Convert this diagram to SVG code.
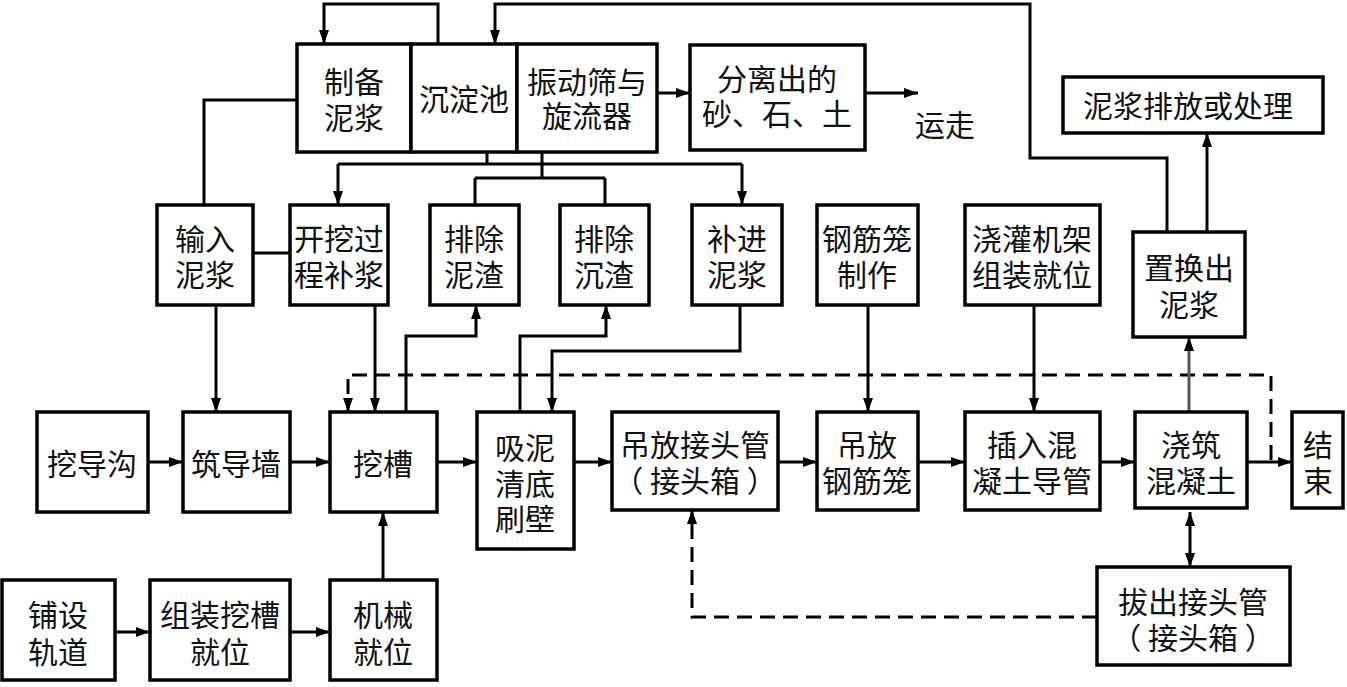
<svg xmlns="http://www.w3.org/2000/svg" width="1347" height="687" viewBox="0 0 1347 687">
<style>
.b{fill:#fff;stroke:#000;stroke-width:3.5}
.t{font-family:"Noto Sans CJK SC","Noto Sans",sans-serif;font-size:30px;fill:#111;text-anchor:middle;dominant-baseline:central}
.c{fill:none;stroke:#000;stroke-width:3}
.a{fill:none;stroke:#000;stroke-width:3;marker-end:url(#ah)}
.d{fill:none;stroke:#000;stroke-width:3;stroke-dasharray:15 8;marker-end:url(#ah)}
</style>
<defs>
<marker id="ah" viewBox="0 0 14 10" refX="14" refY="5" markerWidth="14" markerHeight="10" markerUnits="userSpaceOnUse" orient="auto-start-reverse"><path d="M0,0 L14,5 L0,10 z" fill="#000"/></marker>
</defs>
<rect width="1347" height="687" fill="#fff"/>
<g id="connectors">
<path class="a" d="M438,44 V4 H324 V44"/>
<path class="a" d="M1167,232 V158 H1030 V4 H495 V44"/>
<path class="a" d="M657,93 H690"/>
<path class="a" d="M865,93 H918"/>
<path class="a" d="M1207,232 V133"/>
<path class="c" d="M297,100 H204 V205"/>
<path class="c" d="M253,253 H290"/>
<path class="c" d="M487,152 V164 M338,164 H742 M542,152 V178 M475,178 H605 M475,178 V205 M605,178 V205"/>
<path class="a" d="M338,164 V205"/>
<path class="a" d="M742,164 V205"/>
<path class="a" d="M216,305 V412"/>
<path class="a" d="M375,305 V412"/>
<path class="d" d="M1271,460 V375 H348 V412"/>
<path class="a" d="M406,412 V336 H476 V305"/>
<path class="a" d="M520,412 V336 H606 V305"/>
<path class="a" d="M740,305 V351 H552 V412"/>
<path class="a" d="M868,305 V412"/>
<path class="a" d="M1034,305 V412"/>
<path class="a" d="M1189,412 V337" style="stroke:#555"/>
<path class="a" d="M148,462 H183"/>
<path class="a" d="M290,462 H330"/>
<path class="a" d="M437,462 H477"/>
<path class="a" d="M574,462 H612"/>
<path class="a" d="M778,462 H817"/>
<path class="a" d="M918,462 H965"/>
<path class="a" d="M1100,462 H1135"/>
<path class="a" d="M1247,462 H1292"/>
<path class="a" d="M383,580 V512"/>
<path class="a" d="M115,632 H150"/>
<path class="a" d="M290,632 H330"/>
<path class="a" d="M1190,512 V567" style="marker-start:url(#ah)"/>
<path class="d" d="M1097,617 H692 V510"/>
</g>
<g id="prep"><rect class="b" x="297" y="44" width="114" height="108"/><text class="t" x="354" y="80">制备</text><text class="t" x="354" y="116">泥浆</text></g>
<g id="settle"><rect class="b" x="411" y="44" width="106" height="108"/><text class="t" x="464" y="97">沉淀池</text></g>
<g id="sieve"><rect class="b" x="517" y="44" width="140" height="108"/><text class="t" x="587" y="80">振动筛与</text><text class="t" x="587" y="114">旋流器</text></g>
<g id="sep"><rect class="b" x="690" y="45" width="175" height="105"/><text class="t" x="777" y="77">分离出的</text><text class="t" x="777" y="112">砂、石、土</text></g>
<g id="away"><text class="t" x="945" y="123">运走</text></g>
<g id="disposal"><rect class="b" x="1063" y="77" width="260" height="56"/><text class="t" x="1188" y="104">泥浆排放或处理</text></g>
<g id="input"><rect class="b" x="157" y="205" width="96" height="100"/><text class="t" x="205" y="237">输入</text><text class="t" x="205" y="273">泥浆</text></g>
<g id="supp"><rect class="b" x="290" y="205" width="98" height="100"/><text class="t" x="339" y="237">开挖过</text><text class="t" x="339" y="273">程补浆</text></g>
<g id="mud"><rect class="b" x="430" y="205" width="89" height="100"/><text class="t" x="474" y="237">排除</text><text class="t" x="474" y="273">泥渣</text></g>
<g id="sed"><rect class="b" x="560" y="205" width="89" height="100"/><text class="t" x="604" y="237">排除</text><text class="t" x="604" y="273">沉渣</text></g>
<g id="addmud"><rect class="b" x="692" y="205" width="90" height="100"/><text class="t" x="737" y="237">补进</text><text class="t" x="737" y="273">泥浆</text></g>
<g id="cage"><rect class="b" x="817" y="205" width="101" height="100"/><text class="t" x="867" y="237">钢筋笼</text><text class="t" x="867" y="273">制作</text></g>
<g id="frame"><rect class="b" x="965" y="205" width="135" height="100"/><text class="t" x="1032" y="237">浇灌机架</text><text class="t" x="1032" y="273">组装就位</text></g>
<g id="replace"><rect class="b" x="1133" y="232" width="112" height="105"/><text class="t" x="1189" y="266">置换出</text><text class="t" x="1189" y="303">泥浆</text></g>
<g id="ditch"><rect class="b" x="37" y="412" width="111" height="100"/><text class="t" x="92" y="462">挖导沟</text></g>
<g id="wall"><rect class="b" x="183" y="412" width="107" height="100"/><text class="t" x="236" y="462">筑导墙</text></g>
<g id="trench"><rect class="b" x="330" y="412" width="107" height="100"/><text class="t" x="383" y="462">挖槽</text></g>
<g id="suction"><rect class="b" x="477" y="412" width="97" height="137"/><text class="t" x="525" y="446">吸泥</text><text class="t" x="525" y="482">清底</text><text class="t" x="525" y="517">刷壁</text></g>
<g id="jointpipe"><rect class="b" x="612" y="412" width="166" height="98"/><text class="t" x="695" y="443">吊放接头管</text><text class="t" x="695" y="479" xml:space="preserve">（ 接头箱 ）</text></g>
<g id="cagehoist"><rect class="b" x="817" y="412" width="101" height="98"/><text class="t" x="867" y="443">吊放</text><text class="t" x="867" y="479">钢筋笼</text></g>
<g id="tube"><rect class="b" x="965" y="412" width="135" height="98"/><text class="t" x="1032" y="443">插入混</text><text class="t" x="1032" y="479">凝土导管</text></g>
<g id="pour"><rect class="b" x="1135" y="412" width="112" height="96"/><text class="t" x="1191" y="443">浇筑</text><text class="t" x="1191" y="479">混凝土</text></g>
<g id="end"><rect class="b" x="1292" y="412" width="51" height="96"/><text class="t" x="1318" y="443">结</text><text class="t" x="1318" y="479">束</text></g>
<g id="rail"><rect class="b" x="2" y="580" width="113" height="100"/><text class="t" x="58" y="613">铺设</text><text class="t" x="58" y="650">轨道</text></g>
<g id="assemble"><rect class="b" x="150" y="580" width="140" height="100"/><text class="t" x="220" y="613">组装挖槽</text><text class="t" x="220" y="650">就位</text></g>
<g id="machine"><rect class="b" x="330" y="580" width="107" height="100"/><text class="t" x="383" y="613">机械</text><text class="t" x="383" y="650">就位</text></g>
<g id="pull"><rect class="b" x="1097" y="567" width="193" height="98"/><text class="t" x="1193" y="600">拔出接头管</text><text class="t" x="1193" y="636" xml:space="preserve">（ 接头箱 ）</text></g>
</svg>
